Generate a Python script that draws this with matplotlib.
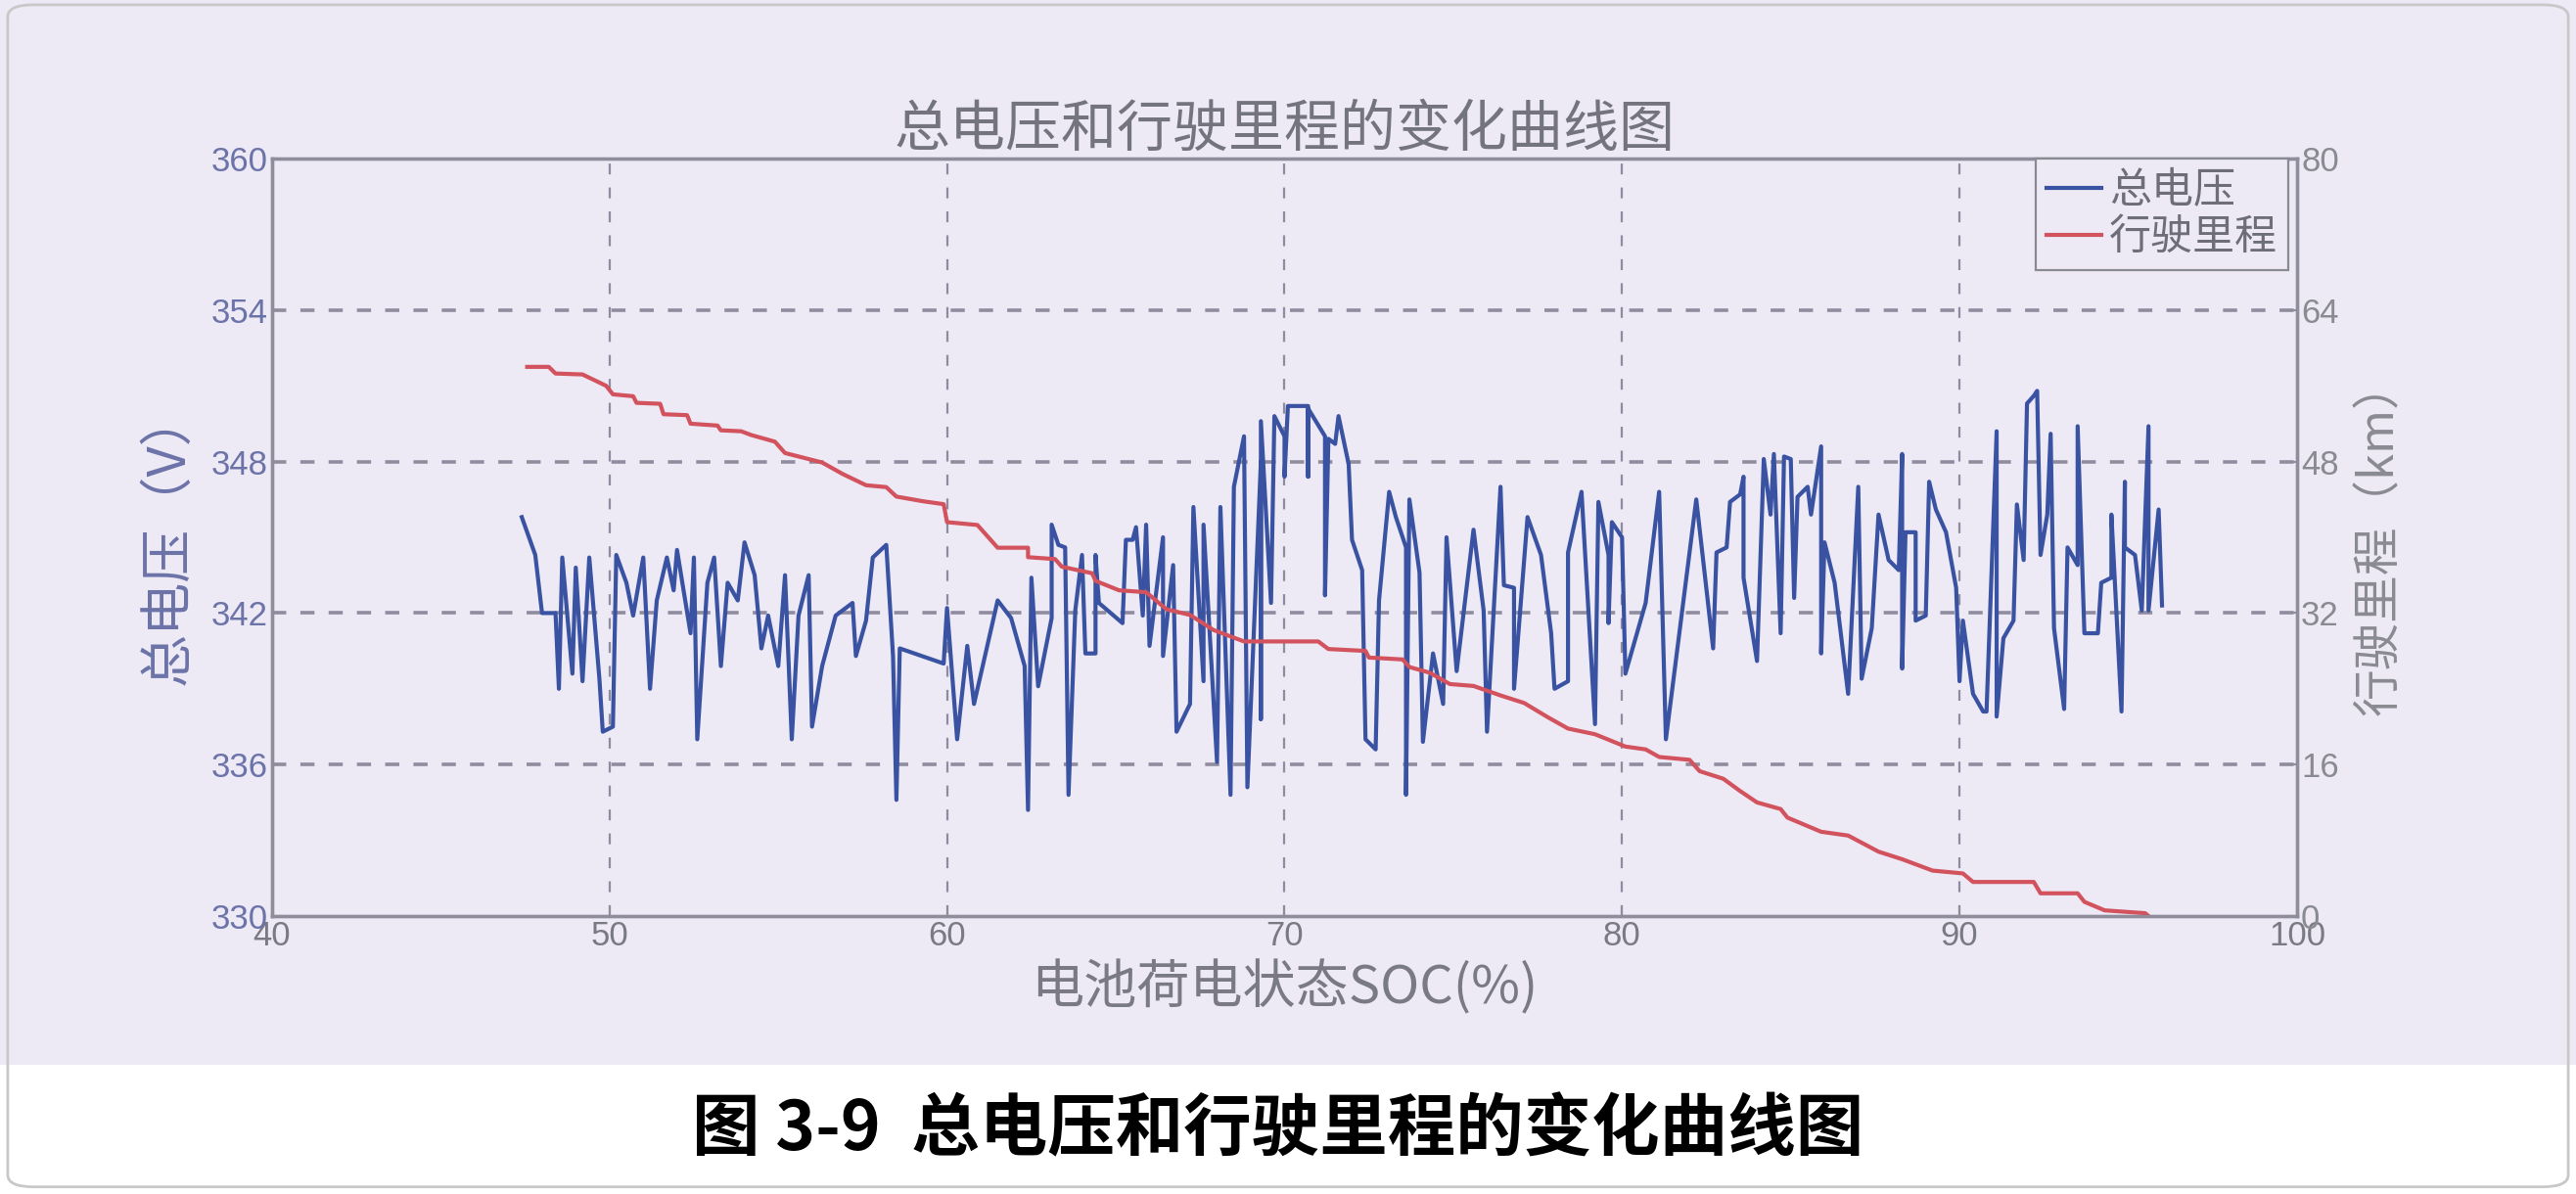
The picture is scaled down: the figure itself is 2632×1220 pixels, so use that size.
import matplotlib
matplotlib.use("Agg")
import matplotlib.pyplot as plt
from matplotlib.patches import Rectangle, FancyBboxPatch
from matplotlib import font_manager

# 总电压 (V) vs SOC (%)
soc_v = [47.4, 47.8, 48.0, 48.4, 48.5, 48.6, 48.9, 49.0, 49.2, 49.4, 49.7, 49.8, 50.1, 50.2,
         50.5, 50.7, 51.0, 51.2, 51.4, 51.7, 51.9, 52.0, 52.4, 52.5, 52.6, 52.9, 53.1, 53.3,
         53.5, 53.8, 54.0, 54.3, 54.5, 54.7, 55.0, 55.2, 55.4, 55.6, 55.9, 56.0, 56.3, 56.7,
         57.2, 57.3, 57.6, 57.8, 58.2, 58.4, 58.5, 58.6, 59.9, 60.0, 60.3, 60.6,
         60.8, 61.5, 61.9, 62.3, 62.4, 62.5, 62.7, 63.1, 63.1, 63.3, 63.5, 63.6, 63.8, 64.0,
         64.1, 64.4, 64.4, 64.5, 65.2, 65.3, 65.5, 65.6, 65.8, 65.9, 66.0, 66.4, 66.4, 66.7,
         66.8, 67.2, 67.3, 67.6, 67.6, 68.0, 68.1, 68.4, 68.5, 68.8, 68.9, 69.3, 69.3, 69.3,
         69.6, 69.7, 70.0, 70.0, 70.1, 70.7, 70.7, 70.7, 71.2, 71.2, 71.3, 71.5, 71.6, 71.9,
         72.0, 72.3, 72.4, 72.7, 72.8, 73.1, 73.3, 73.6, 73.6, 73.7, 74.0, 74.1, 74.4, 74.7,
         74.8, 75.1, 75.6, 75.9, 76.0, 76.4, 76.5, 76.8, 76.8, 77.2, 77.6, 77.9, 78.0, 78.4,
         78.4, 78.8, 79.2, 79.3, 79.6, 79.6, 79.7, 80.0, 80.1, 80.7, 81.1, 81.3, 82.2, 82.7,
         82.8, 83.1, 83.2, 83.5, 83.6, 83.6,
         84.0, 84.2, 84.4, 84.5, 84.7, 84.8, 85.0, 85.1, 85.2, 85.5, 85.6, 85.9, 85.9, 86.0,
         86.3, 86.7, 87.0, 87.1, 87.4, 87.6, 87.9, 88.2, 88.3, 88.3, 88.4, 88.7, 88.7, 89.0,
         89.1, 89.3, 89.6, 89.9, 90.0, 90.1, 90.4, 90.7, 90.8, 91.1, 91.1, 91.3, 91.6, 91.7,
         91.9, 92.0, 92.2, 92.3, 92.4, 92.6, 92.7, 92.8, 93.1, 93.2, 93.5, 93.5, 93.7, 94.1,
         94.2, 94.5, 94.5, 94.8, 94.9, 94.9, 95.2, 95.4, 95.6, 95.6, 95.9, 96.0]
voltage = [345.8, 344.3, 342.0, 342.0, 339.0, 344.2, 339.6, 343.8, 339.3, 344.2, 339.4, 337.3, 337.5, 344.3,
           343.2, 341.9, 344.2, 339.0, 342.5, 344.2, 342.9, 344.5, 341.2, 344.2, 337.0, 343.2, 344.2, 339.9,
           343.2, 342.5, 344.8, 343.5, 340.6, 341.9, 339.9, 343.5, 337.0, 341.9, 343.5, 337.5, 339.9, 341.9,
           342.4, 340.3, 341.7, 344.2, 344.7, 340.3, 334.6, 340.6, 340.0, 342.2, 337.0, 340.7,
           338.4, 342.5, 341.8, 339.9, 334.2, 343.4, 339.1, 341.8, 345.5, 344.7, 344.6, 334.8, 342.1, 344.3,
           340.4, 340.4, 344.3, 342.4, 341.6, 344.9, 344.9, 345.4, 341.9, 345.5, 340.7, 345.0, 340.3, 343.9,
           337.3, 338.4, 346.2, 339.3, 345.5, 336.1, 346.2, 334.8, 347.0, 349.0, 335.1, 348.0, 337.8, 349.6,
           342.4, 349.8, 349.0, 347.4, 350.2, 350.2, 347.4, 350.1, 349.0, 342.7, 348.9, 348.7, 349.8, 347.9,
           344.9, 343.7, 337.0, 336.6, 342.5, 346.8, 345.8, 344.6, 334.8, 346.5, 343.6, 336.9, 340.4, 338.4,
           345.0, 339.7, 345.3, 342.1, 337.3, 347.0, 343.1, 343.0, 339.0, 345.8, 344.3, 341.2, 339.0, 339.3,
           344.4, 346.8, 337.6, 346.4, 344.3, 341.6, 345.6, 345.0, 339.6, 342.4, 346.8, 337.0, 346.5, 340.6,
           344.4, 344.6, 346.4, 346.7, 347.4, 343.4,
           340.1, 348.1, 345.9, 348.3, 341.2, 348.2, 348.1, 342.6, 346.6, 347.0, 345.9, 348.6, 340.4, 344.8,
           343.2, 338.8, 347.0, 339.4, 341.4, 345.9, 344.1, 343.7, 348.3, 339.8, 345.2, 345.2, 341.7, 341.9,
           347.2, 346.1, 345.2, 343.0, 339.3, 341.7, 338.8, 338.1, 338.1, 349.2, 337.9, 341.0, 341.7, 346.3,
           344.1, 350.3, 350.6, 350.8, 344.3, 345.9, 349.1, 341.4, 338.2, 344.6, 343.9, 349.4, 341.2, 341.2,
           343.2, 343.4, 345.9, 338.1, 347.2, 344.6, 344.3, 342.1, 349.4, 342.1, 346.1, 342.3]

# 行驶里程 (km) vs SOC (%)
soc_d = [47.56, 48.2, 48.4, 49.2, 49.9, 50.1, 50.7, 50.8, 51.5, 51.6, 52.3, 52.4, 53.2, 53.3,
         53.9, 54.2, 54.9, 55.2, 56.3, 56.9, 57.6, 58.2, 58.5, 59.3, 59.9, 60.0, 60.9,
         61.5, 62.4, 62.4, 63.2, 63.4, 64.3, 64.4, 65.1, 65.9, 66.5, 67.2, 67.9, 68.8, 71.0,
         71.3, 72.4, 72.5, 73.5, 73.7, 74.3, 74.9, 75.6, 76.4, 77.1, 77.8, 78.4, 79.2, 80.1,
         80.7, 81.1, 82.0, 82.3, 83.0, 83.5, 84.0,
         84.7, 84.9, 85.9, 86.7, 87.6, 88.3, 89.2, 90.1, 90.4, 92.2, 92.4, 93.5, 93.7, 94.3,
         95.5, 95.6]
distance = [58.0, 58.0, 57.3, 57.2, 56.0, 55.1, 54.9, 54.2, 54.1, 53.0, 52.9, 52.0, 51.8, 51.3,
            51.2, 50.8, 50.1, 48.9, 47.9, 46.7, 45.5, 45.3, 44.3, 43.8, 43.5, 41.6, 41.3,
            38.9, 38.9, 37.9, 37.7, 36.9, 36.2, 35.4, 34.4, 34.2, 32.4, 31.8, 30.2, 29.0, 29.0,
            28.2, 28.0, 27.3, 27.1, 26.3, 25.7, 24.5, 24.3, 23.3, 22.5, 21.0, 19.8, 19.2, 17.9,
            17.6, 16.8, 16.5, 15.3, 14.5, 13.2, 12.0,
            11.3, 10.4, 8.9, 8.5, 6.8, 6.0, 4.8, 4.5, 3.6, 3.6, 2.4, 2.4, 1.5, 0.6,
            0.3, 0.0]

x_ticks = [40, 50, 60, 70, 80, 90, 100]
v_ticks = [330, 336, 342, 348, 354, 360]
d_ticks = [0, 16, 32, 48, 64, 80]

cjk = ["Noto Sans CJK SC", "DejaVu Sans"]
names = {f.name for f in font_manager.fontManager.ttflist}
num_font = "Liberation Sans Narrow" if "Liberation Sans Narrow" in names else "Liberation Sans"

bg = "#EDEAF6"
blue = "#3A52A2"
red = "#D2525E"
grid_c = "#8E8C9E"
spine_c = "#8F8D9C"

fig = plt.figure(figsize=(26.32, 12.20), dpi=100)
fig.patch.set_facecolor("white")
fig.patches.append(Rectangle((0, 0.108), 1, 0.892, transform=fig.transFigure,
                             facecolor=bg, edgecolor="none", zorder=-10))
fig.patches.append(FancyBboxPatch((0.003, 0.006), 0.994, 0.99, boxstyle="round,pad=0,rounding_size=0.01",
                                  transform=fig.transFigure, facecolor="none",
                                  edgecolor="#C8C8C8", linewidth=2, zorder=-5))

ax1 = fig.add_axes([0.1056, 0.2328, 0.7861, 0.6344])
ax1.set_facecolor("none")
ax2 = ax1.twinx()

ax1.plot(soc_v, voltage, color=blue, lw=3.0, label="总电压")
ax2.plot(soc_d, distance, color=red, lw=3.0, label="行驶里程")

ax1.set_xlim(40, 100)
ax1.set_ylim(330, 360)
ax2.set_ylim(0, 80)
ax1.set_xticks(x_ticks)
ax1.set_yticks(v_ticks)
ax2.set_yticks(d_ticks)

ax1.set_xticklabels([str(t) for t in x_ticks], fontfamily=num_font, fontsize=25, color="#7A7A84")
ax1.set_yticklabels([str(t) for t in v_ticks], fontfamily=num_font, fontsize=25, color="#6C73A8")
ax2.set_yticklabels([str(t) for t in d_ticks], fontfamily=num_font, fontsize=25, color="#8A8A92")

ax1.tick_params(axis="both", direction="in", length=8, width=1.5, color=spine_c, pad=3)
ax2.tick_params(axis="y", direction="in", length=8, width=1.5, color=spine_c, pad=3)

for ax in (ax1, ax2):
    for s in ax.spines.values():
        s.set_color(spine_c)
        s.set_linewidth(2.4)

# dashed grid like MATLAB
for x in x_ticks[1:-1]:
    ax1.axvline(x, color=grid_c, lw=1.6, ls=(0, (5, 6)), zorder=0)
for y in v_ticks[1:-1]:
    ax1.axhline(y, color=grid_c, lw=2.6, ls=(0, (4, 4)), zorder=0)

ax1.set_xlabel("电池荷电状态SOC(%)", fontfamily=cjk, fontsize=39, color="#7A7A84", labelpad=6)
ax1.set_ylabel("总电压（V）", fontfamily=cjk, fontsize=39, color="#6C73A8", labelpad=12)
ax2.set_ylabel("行驶里程（km）", fontfamily=cjk, fontsize=35, color="#8A8A92", labelpad=12)

fig.text(0.4986, 0.891, "总电压和行驶里程的变化曲线图", fontfamily=cjk, fontsize=41,
         color="#74747E", ha="center", va="center")

h1, l1 = ax1.get_legend_handles_labels()
h2, l2 = ax2.get_legend_handles_labels()
leg = ax2.legend(h1 + h2, l1 + l2, loc="upper right", bbox_to_anchor=(0.9957, 1.0),
                 borderaxespad=0, prop={"family": cjk, "size": 31}, frameon=True,
                 fancybox=False, handlelength=1.3, handletextpad=0.2, borderpad=0.25,
                 labelspacing=0.1)
leg.get_frame().set_edgecolor("#8A8A92")
leg.get_frame().set_linewidth(1.6)
leg.get_frame().set_facecolor(bg)
leg.get_frame().set_alpha(1)
for t in leg.get_texts():
    t.set_color("#6E6E78")

fig.text(0.496, 0.053, "图 3-9  总电压和行驶里程的变化曲线图", fontfamily=cjk, fontsize=50,
         fontweight="bold", color="black", ha="center", va="center")

fig.savefig("out.png", dpi=100, facecolor=fig.get_facecolor())
